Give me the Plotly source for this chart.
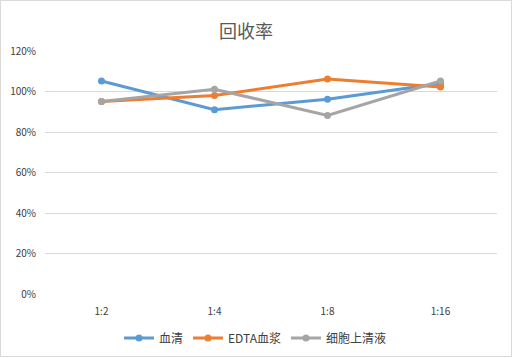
import plotly.graph_objects as go

categories = ["1:2", "1:4", "1:8", "1:16"]
serum = [1.052, 0.910, 0.962, 1.040]
edta_plasma = [0.951, 0.980, 1.062, 1.022]
cell_supernatant = [0.951, 1.011, 0.882, 1.052]
series_names = ["血清", "EDTA血浆", "细胞上清液"]
colors = ["#5B9BD5", "#ED7D31", "#A5A5A5"]
y_ticks = [0, 0.2, 0.4, 0.6, 0.8, 1.0, 1.2]

font_family = "Noto Sans CJK SC, Liberation Sans, sans-serif"

fig = go.Figure()
for name, vals, c in zip(series_names, [serum, edta_plasma, cell_supernatant], colors):
    fig.add_trace(go.Scatter(
        x=categories, y=vals, name=name, mode="lines+markers",
        line=dict(color=c, width=3),
        marker=dict(color=c, size=7),
    ))

W, H = 513, 358
ml, mr, mt, mb = 45, 16, 51, 64
pw, ph = W - ml - mr, H - mt - mb

fig.update_layout(
    width=W, height=H,
    margin=dict(l=ml, r=mr, t=mt, b=mb, pad=0),
    paper_bgcolor="white", plot_bgcolor="white",
    font=dict(family=font_family, color="#595959", size=10),
    title=dict(text="回收率", x=246 / W, xanchor="center", xref="container",
               y=1 - 32 / H, yanchor="middle", yref="container",
               font=dict(size=18, color="#595959", family=font_family)),
    xaxis=dict(type="category", range=[-0.5, 3.5], showgrid=False, showline=False,
               automargin=False, ticks="outside", ticklen=8, tickcolor="rgba(0,0,0,0)",
               tickfont=dict(size=10, color="#404040")),
    yaxis=dict(range=[0, 1.2], tickvals=y_ticks, tickformat=".0%", showgrid=True,
               gridcolor="#D9D9D9", gridwidth=1, zeroline=False, showline=False,
               automargin=False, ticks="outside", ticklen=6, tickcolor="rgba(0,0,0,0)",
               tickfont=dict(size=10, color="#404040")),
    legend=dict(orientation="h", xref="container", yref="container",
                x=255 / W, xanchor="center", y=1 - 338 / H, yanchor="middle",
                font=dict(size=12, color="#404040"), itemwidth=30, tracegroupgap=0),
    showlegend=True,
)

fig.add_shape(type="rect", xref="paper", yref="paper",
              x0=-(ml - 0.5) / pw, x1=1 + (mr - 1.5) / pw,
              y0=-(mb - 1.5) / ph, y1=1 + (mt - 0.5) / ph,
              line=dict(color="#D9D9D9", width=1), fillcolor="rgba(0,0,0,0)", layer="below")

fig.write_html("out.html", config={"displayModeBar": False},
               post_script="document.body.style.margin='0';")
